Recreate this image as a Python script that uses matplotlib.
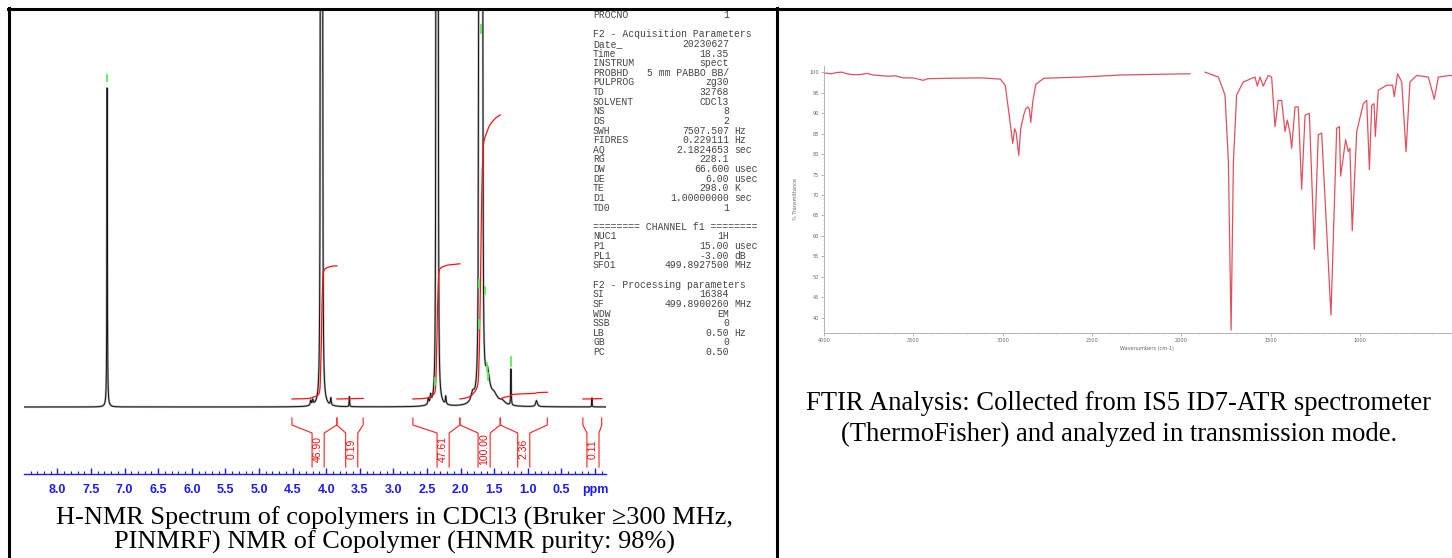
import numpy as np
import matplotlib
matplotlib.use("Agg")
import matplotlib.pyplot as plt
from matplotlib.lines import Line2D

W, H = 1452, 558

# ---------------- NMR peak table (ppm, height, half width) ----------------
peak_ppm = [7.26, 4.23, 4.20, 4.085, 4.07, 4.055, 3.93, 3.655,
            2.48, 2.445, 2.365, 2.35, 2.335, 2.22, 1.82,
            1.73, 1.715, 1.70, 1.685, 1.67, 1.60, 1.50, 1.38, 1.25, 0.87, 0.045]
peak_height = [319, 5, 5, 700, 1400, 700, 7, 10,
               6, 8, 700, 1400, 700, 8, 9,
               300, 900, 1300, 900, 300, 28, 9, 4, 36, 6, 9]
peak_width = [0.004, 0.008, 0.008, 0.004, 0.004, 0.004, 0.006, 0.004,
              0.008, 0.008, 0.004, 0.004, 0.004, 0.006, 0.03,
              0.005, 0.005, 0.005, 0.005, 0.005, 0.04, 0.06, 0.05, 0.004, 0.015, 0.003]

# integral regions
region_start = [4.51, 3.84, 2.71, 2.01, 1.41, 0.18]
region_end = [3.84, 3.45, 2.01, 1.41, 0.71, -0.10]
integral_value = [46.90, 0.19, 47.61, 100.00, 2.36, 0.11]
integral_label = ["46.90", "0.19", "47.61", "100.00", "2.36", "0.11"]
integral_label_ppm = [4.12, 3.62, 2.26, 1.65, 1.06, 0.03]

# peak picking marks (ppm, top, bottom)
mark_ppm = [7.26, 1.70, 1.73, 1.64, 1.73, 1.61, 1.59, 1.25, 2.38]
mark_top = [332, 382, 127, 120, 87, 44, 34, 50, 29]
mark_bot = [326, 374, 120, 113, 79, 36, 27, 41, 22]

ppm_ticks = [8.0, 7.5, 7.0, 6.5, 6.0, 5.5, 5.0, 4.5, 4.0, 3.5, 3.0, 2.5, 2.0, 1.5, 1.0, 0.5, 0.0]
ppm_labels = ["8.0", "7.5", "7.0", "6.5", "6.0", "5.5", "5.0", "4.5", "4.0",
              "3.5", "3.0", "2.5", "2.0", "1.5", "1.0", "0.5", "ppm"]

params = [
    ("PROCNO", "1", ""),
    None,
    ("F2 - Acquisition Parameters", "", ""),
    ("Date_", "20230627", ""),
    ("Time", "18.35", ""),
    ("INSTRUM", "spect", ""),
    ("PROBHD", "5 mm PABBO BB/", ""),
    ("PULPROG", "zg30", ""),
    ("TD", "32768", ""),
    ("SOLVENT", "CDCl3", ""),
    ("NS", "8", ""),
    ("DS", "2", ""),
    ("SWH", "7507.507", "Hz"),
    ("FIDRES", "0.229111", "Hz"),
    ("AQ", "2.1824653", "sec"),
    ("RG", "228.1", ""),
    ("DW", "66.600", "usec"),
    ("DE", "6.00", "usec"),
    ("TE", "298.0", "K"),
    ("D1", "1.00000000", "sec"),
    ("TD0", "1", ""),
    None,
    ("======== CHANNEL f1 ========", "", ""),
    ("NUC1", "1H", ""),
    ("P1", "15.00", "usec"),
    ("PL1", "-3.00", "dB"),
    ("SFO1", "499.8927500", "MHz"),
    None,
    ("F2 - Processing parameters", "", ""),
    ("SI", "16384", ""),
    ("SF", "499.8900260", "MHz"),
    ("WDW", "EM", ""),
    ("SSB", "0", ""),
    ("LB", "0.50", "Hz"),
    ("GB", "0", ""),
    ("PC", "0.50", ""),
]

# ---------------- FTIR trace ----------------
ftir_wn = [4000, 3960, 3930, 3900, 3871, 3840, 3800, 3760, 3724, 3690, 3646, 3600,
           3556, 3500, 3444, 3420, 3309, 3124, 3013, 2986, 2966, 2944, 2933, 2925,
           2910, 2899, 2882, 2871, 2860, 2851, 2843, 2832, 2815, 2770, 2562, 2338,
           2100, 1952, np.nan, 1868, 1793, 1756, 1737, 1722, 1709, 1691, 1654, 1588,
           1575, 1560, 1542, 1514, 1495, 1476, 1458, 1439, 1420, 1407, 1392, 1383,
           1364, 1346, 1327, 1308, 1284, 1256, 1234, 1215, 1163, 1131, 1116, 1109,
           1081, 1066, 1057, 1044, 1019, 982, 963, 948, 935, 922, 915, 898,
           851, 818, 809, 790, 767, 743, 721, 683, 618, 585, 562, 497, 450, 400]
ftir_t = [99.8, 99.6, 99.9, 100.0, 99.6, 99.4, 99.4, 99.7, 99.3, 99.2, 99.0, 99.1,
          98.6, 98.6, 98.0, 98.4, 98.5, 98.6, 98.3, 96.8, 90.3, 82.6, 86.2, 85.3,
          79.7, 86.2, 89.6, 91.0, 91.5, 91.0, 87.7, 92.7, 97.0, 98.5, 98.8, 99.3,
          99.5, 99.6, np.nan, 100.0, 98.8, 94.4, 78.2, 37.0, 78.2, 94.4, 97.6, 98.8,
          96.6, 98.8, 96.6, 99.2, 98.8, 86.7, 93.1, 93.1, 85.5, 88.3, 85.1, 81.4,
          91.5, 91.5, 71.4, 89.5, 89.9, 56.8, 84.7, 85.1, 40.7, 86.3, 86.7, 74.6,
          83.5, 80.6, 81.4, 61.3, 85.5, 92.3, 93.1, 76.2, 91.9, 92.3, 84.3, 95.6,
          96.8, 96.8, 94.0, 99.6, 97.6, 80.6, 97.6, 99.2, 98.8, 93.4, 98.8, 99.2, 99.0, 99.0]
ftir_xticks = [4000, 3500, 3000, 2500, 2000, 1500, 1000]
ftir_yticks = [40, 45, 50, 55, 60, 65, 70, 75, 80, 85, 90, 95, 100]

nmr_caption = "H-NMR Spectrum of copolymers in CDCl3 (Bruker \u2265300 MHz,\nPINMRF) NMR of Copolymer (HNMR purity: 98%)"
ftir_caption = "FTIR Analysis: Collected from IS5 ID7-ATR spectrometer\n(ThermoFisher) and analyzed in transmission mode."


def px_rect(x0, y0, x1, y1):
    # pixel box (top-left origin) -> figure fraction
    return [x0 / W, 1 - y1 / H, (x1 - x0) / W, (y1 - y0) / H]


def fx(x):
    return x / W


def fy(y):
    return 1 - y / H


fig = plt.figure(figsize=(W / 100, H / 100), dpi=100)

# ---------------- NMR spectrum ----------------
ax = fig.add_axes(px_rect(24, 11, 606, 500))
ppm = np.linspace(-0.2, 8.6, 30000)
spec = np.zeros_like(ppm)
for p, h, w in zip(peak_ppm, peak_height, peak_width):
    spec += h / (1 + ((ppm - p) / w) ** 2)
# soft grey halo under the black trace, like the scanned plot
ax.plot(ppm, spec, color="#b4b4b4", lw=1.6)
ax.plot(ppm, spec, color="#151515", lw=0.7)

# integral traces, step height proportional to the integral value
px_per_unit = 2.84
for a, b, val in zip(region_start, region_end, integral_value):
    m = (ppm <= a) & (ppm >= b)
    xs = ppm[m][::-1]
    cs = np.cumsum(spec[m][::-1])
    ax.plot(xs, 8 + px_per_unit * val * cs / cs[-1], color="#ff1010", lw=0.9)

# integral brackets and labels
gap = 0.09
for a, b, c, lab in zip(region_start, region_end, integral_label_ppm, integral_label):
    ax.plot([a, a, c + gap, c + gap], [-11, -18, -26, -60], color="#ff2020", lw=0.8)
    ax.plot([b, b, c - gap, c - gap], [-11, -18, -26, -60], color="#ff2020", lw=0.8)
    ax.text(c, -42, lab, rotation=90, ha="center", va="center", color="#ee1111",
            fontsize=7.5, family="Liberation Sans")

for p, t, bt in zip(mark_ppm, mark_top, mark_bot):
    ax.plot([p, p], [bt, t], color="#55ee55", lw=1.3)

ax.set_xlim(8.497, -0.164)
ax.set_ylim(-93, 396)
for s in ["top", "left", "right"]:
    ax.spines[s].set_visible(False)
ax.spines["bottom"].set_position(("data", -67))
ax.spines["bottom"].set_color("#1a1aff")
ax.spines["bottom"].set_linewidth(1.0)
ax.set_yticks([])
ax.set_xticks(ppm_ticks)
ax.set_xticklabels(ppm_labels)
ax.set_xticks(np.arange(-0.1, 8.5, 0.1), minor=True)
ax.tick_params(axis="x", which="major", direction="in", length=4, width=1,
               color="#1a1aff", labelcolor="#1a1aff", pad=7)
ax.tick_params(axis="x", which="minor", direction="in", length=2.2, width=0.8,
               color="#1a1aff")
for t in ax.get_xticklabels():
    t.set_fontweight("bold")
    t.set_fontsize(9)
    t.set_family("Liberation Sans")
ax.patch.set_alpha(0)

# acquisition parameters
y0 = 15
for i, row in enumerate(params):
    if row is None:
        continue
    y = fy(y0 + i * 9.63)
    fig.text(fx(593), y, row[0], ha="left", va="center", fontsize=7,
             family="Liberation Mono", color="#444444")
    if row[1]:
        fig.text(fx(729), y, row[1], ha="right", va="center", fontsize=7,
                 family="Liberation Mono", color="#444444")
    if row[2]:
        fig.text(fx(734), y, row[2], ha="left", va="center", fontsize=7,
                 family="Liberation Mono", color="#444444")

fig.text(fx(394), fy(530), nmr_caption, ha="center", va="center", fontsize=18.9,
         family="Liberation Serif", linespacing=1.02)

# ---------------- FTIR ----------------
ax2 = fig.add_axes(px_rect(824, 66, 1470, 333))
ax2.plot(ftir_wn, ftir_t, color="#e2505e", lw=0.9)
ax2.set_xlim(4000, 385)
ax2.set_ylim(36.3, 101.5)
ax2.spines["top"].set_visible(False)
ax2.spines["right"].set_visible(False)
for s in ["left", "bottom"]:
    ax2.spines[s].set_color("#aaaaaa")
    ax2.spines[s].set_linewidth(0.6)
ax2.set_xticks(ftir_xticks)
ax2.set_xticklabels([str(v) for v in ftir_xticks])
ax2.set_yticks(ftir_yticks)
ax2.set_yticklabels([str(v) for v in ftir_yticks])
ax2.set_xticks(np.arange(500, 4001, 100), minor=True)
ax2.set_yticks(np.arange(37, 101, 1), minor=True)
ax2.tick_params(which="major", length=2, width=0.5, color="#999999",
                labelsize=3.6, labelcolor="#666666", pad=1.5)
ax2.tick_params(which="minor", length=1, width=0.4, color="#aaaaaa")
ax2.set_xlabel("Wavenumbers (cm-1)", fontsize=3.6, color="#666666", labelpad=2)
ax2.set_ylabel("% Transmittance", fontsize=3.6, color="#666666", labelpad=8)

fig.text(fx(1119), fy(419), ftir_caption, ha="center", va="center", fontsize=19.2,
         family="Liberation Serif", linespacing=1.32)

# ---------------- table borders ----------------
lw = 2.2
fig.add_artist(Line2D([fx(8), 1], [fy(9), fy(9)], color="black", lw=lw))
fig.add_artist(Line2D([fx(9), fx(9)], [fy(8), 0], color="black", lw=lw))
fig.add_artist(Line2D([fx(777), fx(777)], [fy(8), 0], color="black", lw=lw))

fig.savefig("out.png", dpi=100)
